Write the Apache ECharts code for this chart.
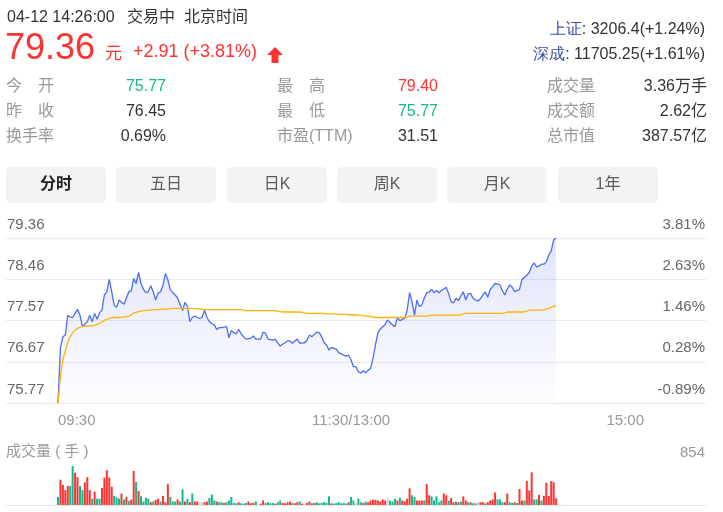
<!DOCTYPE html>
<html><head><meta charset="utf-8">
<script src="https://cdn.jsdelivr.net/npm/echarts@6/dist/echarts.min.js"></script>
<style>html,body{margin:0;padding:0;background:#fff}#c{width:723px;height:512px}</style>
</head><body><div id="c"></div>
<script>
// ---- data ----
const priceTicks = ['75.77','76.67','77.57','78.46','79.36'];
const pctTicks = ['-0.89%','0.28%','1.46%','2.63%','3.81%'];
const timeTicks = ['09:30','11:30/13:00','15:00'];
const priceMin = 75.77, priceMax = 79.36;
const volMax = 854;

const price = [
75.77,76.97,77.21,77.25,77.68,77.64,77.63,77.72,77.81,77.68,
77.43,77.49,77.54,77.68,77.54,77.72,77.59,77.73,77.79,78.12,
78.19,78.46,78.19,77.90,77.85,78.01,77.96,77.92,78.05,78.19,
78.21,78.48,78.37,78.61,78.37,78.24,78.17,78.19,78.32,78.19,
78.01,78.16,78.19,78.33,78.59,78.45,78.23,78.17,78.12,78.05,
77.92,77.78,77.96,77.87,77.54,77.63,77.66,77.63,77.61,77.63,
77.79,77.63,77.54,77.50,77.47,77.37,77.41,77.41,77.42,77.43,
77.19,77.35,77.30,77.27,77.37,77.28,77.21,77.16,77.17,77.18,
77.23,77.16,77.16,77.16,77.31,77.29,77.16,77.15,77.14,77.16,
77.08,77.01,77.05,77.08,77.12,77.12,77.07,77.12,77.16,77.07,
77.08,77.08,77.14,77.25,77.21,77.27,77.31,77.30,77.21,77.08,
77.03,76.92,76.98,76.96,76.94,76.86,76.84,76.81,76.79,76.81,
76.71,76.56,76.56,76.45,76.42,76.47,76.43,76.48,76.52,76.74,
77.03,77.29,77.38,77.43,77.48,77.58,77.52,77.47,77.43,77.63,
77.56,77.59,77.61,77.79,78.17,77.97,77.68,78.01,77.87,77.90,
78.05,78.17,78.18,78.24,78.17,78.22,78.17,78.22,78.25,78.29,
78.15,77.97,77.95,78.05,78.00,78.10,78.19,78.01,78.15,78.15,
78.05,78.01,77.99,78.04,78.12,78.19,78.07,78.24,78.30,78.37,
78.36,78.34,78.21,78.12,78.25,78.34,78.29,78.19,78.22,78.23,
78.46,78.50,78.55,78.61,78.75,78.82,78.73,78.75,78.79,78.79,
78.84,78.99,79.08,79.32,79.36
];

const avgPrice = [
75.77,76.34,76.71,76.90,77.10,77.21,77.30,77.36,77.39,77.42,
77.43,77.44,77.44,77.45,77.45,77.46,77.48,77.50,77.53,77.57,
77.59,77.61,77.63,77.63,77.63,77.63,77.63,77.64,77.65,77.66,
77.69,77.73,77.74,77.76,77.77,77.78,77.78,77.79,77.79,77.80,
77.80,77.80,77.81,77.81,77.81,77.82,77.82,77.83,77.83,77.83,
77.83,77.83,77.83,77.83,77.83,77.83,77.82,77.82,77.82,77.81,
77.80,77.80,77.80,77.80,77.80,77.80,77.80,77.80,77.80,77.80,
77.80,77.80,77.80,77.80,77.80,77.80,77.79,77.78,77.78,77.78,
77.78,77.78,77.78,77.78,77.78,77.78,77.78,77.78,77.78,77.78,
77.77,77.76,77.75,77.75,77.75,77.75,77.75,77.75,77.75,77.75,
77.74,77.73,77.72,77.72,77.72,77.72,77.72,77.72,77.72,77.72,
77.71,77.71,77.71,77.71,77.71,77.70,77.70,77.70,77.70,77.69,
77.69,77.69,77.68,77.68,77.68,77.67,77.66,77.66,77.65,77.64,
77.63,77.63,77.63,77.63,77.63,77.63,77.63,77.63,77.63,77.63,
77.63,77.63,77.63,77.64,77.66,77.66,77.66,77.66,77.66,77.66,
77.66,77.66,77.67,77.68,77.68,77.68,77.68,77.68,77.68,77.68,
77.68,77.68,77.68,77.68,77.68,77.69,77.71,77.72,77.72,77.72,
77.72,77.72,77.72,77.72,77.72,77.72,77.72,77.72,77.72,77.72,
77.72,77.72,77.72,77.73,77.75,77.75,77.75,77.75,77.75,77.75,
77.75,77.76,77.77,77.79,77.79,77.79,77.79,77.79,77.79,77.80,
77.81,77.83,77.85,77.87,77.89
];

const volume = [
175,555,441,327,418,418,854,707,608,418,
327,494,608,327,137,290,137,137,370,600,
760,600,400,198,170,140,250,120,180,90,
120,745,505,305,190,76,160,137,61,76,
114,137,76,198,61,456,175,76,76,122,
76,342,76,137,61,251,76,76,61,61,
61,76,152,228,99,76,61,61,45,61,
99,175,45,38,61,38,30,45,76,38,
45,76,23,30,99,45,61,38,45,30,
61,99,45,38,61,76,45,38,61,76,
30,23,45,76,38,45,61,38,45,61,
45,190,38,30,45,61,38,45,30,61,
175,99,38,137,61,45,76,61,99,114,
114,99,76,122,99,152,99,76,137,99,
160,99,76,137,365,213,175,99,99,99,
99,460,213,190,99,190,61,99,251,213,
99,152,61,76,61,76,190,99,61,61,
38,38,61,61,61,38,61,99,122,274,
122,122,61,61,251,61,45,61,45,350,
99,99,524,319,714,122,122,220,99,198,
486,198,524,502,144
];

// 1 = up (red), -1 = down (green), 0 = flat (grey)
const volDir = [
-1,1,1,1,1,-1,-1,1,1,-1,
-1,1,1,1,-1,1,-1,-1,1,1,
1,1,1,-1,-1,-1,1,-1,1,-1,
1,1,-1,1,-1,-1,-1,-1,1,-1,
1,1,-1,1,1,1,-1,-1,-1,1,
-1,-1,1,-1,1,-1,1,1,0,0,
1,1,-1,-1,-1,1,-1,-1,1,-1,
-1,-1,-1,-1,1,-1,-1,-1,1,1,
1,-1,0,1,1,-1,-1,-1,-1,1,
-1,-1,1,1,1,1,-1,1,1,-1,
1,0,1,1,-1,1,-1,-1,-1,-1,
-1,-1,1,-1,-1,-1,-1,-1,-1,1,
-1,-1,0,-1,-1,1,-1,1,1,1,
1,1,1,1,1,0,-1,-1,-1,1,
-1,1,1,1,1,-1,-1,1,1,1,
-1,1,1,-1,-1,-1,-1,-1,1,1,
-1,1,1,-1,1,-1,1,1,-1,1,
-1,-1,0,1,1,-1,1,1,1,1,
-1,-1,-1,1,1,-1,-1,1,-1,1,
1,-1,1,1,1,-1,-1,1,-1,1,
1,1,1,1,1
];

// ---- styles ----
const RED = '#ff3232', GREEN = '#12b98b', GREY = '#cfd2d6';
const F = '"Liberation Sans", Arial, "Noto Sans CJK SC", sans-serif';
const CJK = '"Liberation Sans", "Noto Sans CJK SC", sans-serif';

function txt(x, y, text, size, fill, align, extra) {
  return Object.assign({
    type: 'text', x: x, y: y, silent: true,
    style: { text: text, font: size + 'px ' + CJK, fill: fill,
      align: align || 'left', verticalAlign: 'middle',
      textAlign: align || 'left', textVerticalAlign: 'middle' }
  }, extra || {});
}

const graphics = [];
graphics.push(txt(7, 18, '04-12 14:26:00', 16, '#333'));
graphics.push(txt(127, 18, '交易中', 16, '#333'));
graphics.push(txt(184, 18, '北京时间', 16, '#333'));
graphics.push(txt(5, 49, '79.36', 36, RED));
graphics.push(txt(105, 54, '元', 17, RED));
graphics.push(txt(133, 52, '+2.91 (+3.81%)', 18, RED));
graphics.push({ type: 'polygon', silent: true,
  shape: { points: [[275,47],[283,55],[278.5,55],[278.5,63],[271.5,63],[271.5,55],[267,55]] },
  style: { fill: RED } });

function idxText(y, name, rest) {
  return { type: 'text', x: 705, y: y, silent: true,
    style: { text: '{a|' + name + '}: ' + rest, font: '16px ' + CJK, fill: '#333',
      align: 'right', verticalAlign: 'middle', textAlign: 'right', textVerticalAlign: 'middle',
      rich: { a: { fill: '#3b4ea3', color: '#3b4ea3', font: '16px ' + CJK, fontSize: 16 } } } };
}
graphics.push(idxText(30, '上证', '3206.4(+1.24%)'));
graphics.push(idxText(55, '深成', '11705.25(+1.61%)'));

const statRows = [87, 112, 137];
const statCols = [
  { lx: 6, vx: 166, labels: ['今　开','昨　收','换手率'], values: ['75.77','76.45','0.69%'], colors: [GREEN,'#333','#333'] },
  { lx: 277, vx: 438, labels: ['最　高','最　低','市盈(TTM)'], values: ['79.40','75.77','31.51'], colors: [RED,GREEN,'#333'] },
  { lx: 547, vx: 707, labels: ['成交量','成交额','总市值'], values: ['3.36万手','2.62亿','387.57亿'], colors: ['#333','#333','#333'] }
];
statCols.forEach(c => {
  c.labels.forEach((l, i) => {
    graphics.push(txt(c.lx, statRows[i], l, 16, '#999'));
    graphics.push(txt(c.vx, statRows[i], c.values[i], 16, c.colors[i], 'right'));
  });
});

const tabs = ['分时','五日','日K','周K','月K','1年'];
const tabX = [6, 116, 227, 337, 447, 558];
tabs.forEach((t, i) => {
  graphics.push({ type: 'rect', silent: true, shape: { x: tabX[i], y: 167, width: 100, height: 36, r: 5 },
    style: { fill: '#f2f3f5' } });
  graphics.push({ type: 'text', x: tabX[i] + 50, y: 185, silent: true,
    style: { text: t, font: (i === 0 ? 'bold ' : '') + '16px ' + CJK, fill: i === 0 ? '#222' : '#5c5c5c',
      align: 'center', verticalAlign: 'middle', textAlign: 'center', textVerticalAlign: 'middle' } });
});
graphics.push(txt(6, 452, '成交量 ( 手 )', 15, '#999'));

const chart = echarts.init(document.getElementById('c'), null, { renderer: 'canvas' });
chart.setOption({
  animation: false,
  backgroundColor: '#fff',
  textStyle: { fontFamily: F },
  graphic: graphics,
  grid: [
    { left: 6, right: 17, top: 238, height: 165 },
    { left: 58, right: 79, top: 238, height: 165 },
    { left: 58, right: 79, top: 466, height: 39 },
    { left: 6, right: 17, top: 466, height: 39 }
  ],
  xAxis: [
    { gridIndex: 0, type: 'value', min: 0, max: 1, show: false },
    { gridIndex: 1, type: 'value', min: 0, max: 240, interval: 120,
      axisLine: { show: false }, axisTick: { show: false }, splitLine: { show: false },
      axisLabel: { formatter: v => timeTicks[Math.round(v / 120)], color: '#999', fontSize: 15, margin: 10,
        fontFamily: F, showMinLabel: true, showMaxLabel: true, alignMinLabel: 'left', alignMaxLabel: 'right' } },
    { gridIndex: 2, type: 'value', min: 0, max: 240, show: false },
    { gridIndex: 3, type: 'value', min: 0, max: 1,
      axisLine: { show: true, lineStyle: { color: '#e6e6e6' } }, axisTick: { show: false },
      axisLabel: { show: false }, splitLine: { show: false } }
  ],
  yAxis: [
    { gridIndex: 0, type: 'value', min: 0, max: 4, interval: 1, position: 'left',
      axisLine: { show: false }, axisTick: { show: false },
      splitLine: { show: true, lineStyle: { color: '#ebebeb', width: 1 } },
      axisLabel: { inside: true, margin: 1, verticalAlign: 'bottom', padding: [0, 0, 6, 0],
        color: '#666', fontSize: 15, fontFamily: F, formatter: v => priceTicks[Math.round(v)] } },
    { gridIndex: 0, type: 'value', min: 0, max: 4, interval: 1, position: 'right',
      axisLine: { show: false }, axisTick: { show: false }, splitLine: { show: false },
      axisLabel: { inside: true, margin: 1, verticalAlign: 'bottom', padding: [0, 0, 6, 0],
        color: '#666', fontSize: 15, fontFamily: F, formatter: v => pctTicks[Math.round(v)] } },
    { gridIndex: 1, type: 'value', min: priceMin, max: priceMax, show: false },
    { gridIndex: 2, type: 'value', min: 0, max: volMax, show: false },
    { gridIndex: 3, type: 'value', min: 0, max: volMax, interval: volMax, position: 'right',
      axisLine: { show: false }, axisTick: { show: false }, splitLine: { show: false },
      axisLabel: { inside: true, margin: 1, verticalAlign: 'bottom', padding: [0, 0, 6, 0],
        color: '#999', fontSize: 15, fontFamily: F, formatter: v => (v === volMax ? String(volMax) : '') } }
  ],
  series: [
    { type: 'line', xAxisIndex: 1, yAxisIndex: 2, data: price.map((p, i) => [i, p]),
      showSymbol: false, symbol: 'none', lineStyle: { color: '#4d6df3', width: 1.3 },
      areaStyle: { origin: 'start', color: new echarts.graphic.LinearGradient(0, 0, 0, 1, [
        { offset: 0, color: 'rgba(90,110,240,0.26)' }, { offset: 1, color: 'rgba(90,110,240,0.02)' }]) },
      z: 3 },
    { type: 'line', xAxisIndex: 1, yAxisIndex: 2, data: avgPrice.map((p, i) => [i, p]),
      showSymbol: false, symbol: 'none', lineStyle: { color: '#ffb400', width: 1.3 }, z: 4 },
    { type: 'bar', xAxisIndex: 2, yAxisIndex: 3, barWidth: 2, clip: false,
      data: volume.map((v, i) => ({ value: [i, v],
        itemStyle: { color: volDir[i] > 0 ? RED : (volDir[i] < 0 ? GREEN : GREY) } })) }
  ]
});
</script>
</body></html>
